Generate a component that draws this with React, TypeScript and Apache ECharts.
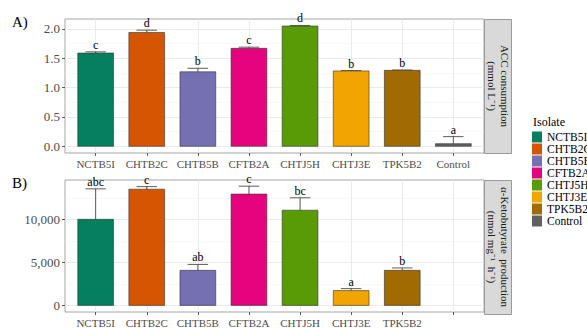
import React, { useEffect, useRef } from "react";
import * as echarts from "echarts";

// Isolates and their fill colours
const isolates = ["NCTB5I", "CHTB2C", "CHTB5B", "CFTB2A", "CHTJ5H", "CHTJ3E", "TPK5B2", "Control"];
const fills = ["#04805F", "#D55502", "#7470B2", "#E5047E", "#589B06", "#F2A401", "#A16A02", "#616161"];

// Panel A: ACC consumption (mmol L-1), mean and upper error limit
const accMean = [1.59, 1.94, 1.27, 1.67, 2.05, 1.285, 1.295, 0.045];
const accUpper = [1.61, 1.98, 1.33, 1.69, 2.06, 1.29, 1.3, 0.165];
const accLetters = ["c", "d", "b", "c", "d", "b", "b", "a"];

// Panel B: alpha-ketobutyrate production (nmol mg-1 h-1); no value for Control
const ketoMean = [10020, 13530, 4080, 12960, 11080, 1720, 4080, null];
const ketoUpper = [13570, 13830, 4770, 13880, 12530, 1950, 4360, null];
const ketoLetters = ["abc", "c", "ab", "c", "bc", "a", "b", null];

// Axis ticks
const accTicks = [0, 0.5, 1, 1.5, 2];
const accMinor = [0.25, 0.75, 1.25, 1.75];
const ketoTicks = [0, 5000, 10000];
const ketoMinor = [2500, 7500, 12500];
const catPositions = [0, 1, 2, 3, 4, 5, 6, 7];

const FONT = "'Liberation Serif', 'Times New Roman', serif";
const GRID_LEFT = 65;
const GRID_WIDTH = 419;

function barSeries(
  name: string,
  color: string,
  xi: number,
  mean: number | null,
  upper: number | null,
  letter: string | null,
  axisIdx: number
) {
  return {
    type: "custom",
    name,
    xAxisIndex: axisIdx,
    yAxisIndex: axisIdx,
    itemStyle: { color },
    data: mean == null ? [] : [[xi, mean, upper]],
    encode: { x: 0, y: [1, 2] },
    renderItem: (_params: any, api: any) => {
      const x = api.value(0);
      const m = api.value(1);
      const u = api.value(2);
      const base = api.coord([x, 0]);
      const top = api.coord([x, m]);
      const up = api.coord([x, u]);
      const bw = api.size([0.7, 0])[0];
      const cw = api.size([0.4, 0])[0];
      const line = { stroke: "#333333", lineWidth: 0.8 };
      return {
        type: "group",
        children: [
          { type: "line", shape: { x1: up[0], y1: top[1], x2: up[0], y2: up[1] }, style: line },
          { type: "line", shape: { x1: up[0] - cw / 2, y1: up[1], x2: up[0] + cw / 2, y2: up[1] }, style: line },
          {
            type: "rect",
            shape: { x: base[0] - bw / 2, y: top[1], width: bw, height: base[1] - top[1] },
            style: { fill: color, stroke: "#333333", lineWidth: 0.6 },
          },
          {
            type: "text",
            x: up[0],
            y: up[1] - 1,
            style: {
              text: letter,
              align: "center",
              verticalAlign: "bottom",
              fontFamily: FONT,
              fontSize: 12,
              fill: "#000000",
            },
          },
        ],
      };
    },
  };
}

function xAxis(gridIndex: number, labelled: number[]) {
  return {
    type: "value",
    gridIndex,
    min: -0.6,
    max: 7.6,
    axisLine: { show: false, onZero: false },
    axisTick: { show: true, customValues: catPositions, length: 3, lineStyle: { color: "#333333", width: 0.8 } },
    axisLabel: {
      customValues: labelled,
      formatter: (v: number) => isolates[Math.round(v)],
      fontFamily: FONT,
      fontSize: 11,
      color: "#4D4D4D",
      margin: 5,
    },
    splitLine: { show: true, lineStyle: { color: "#EBEBEB", width: 1 } },
  };
}

function yAxis(gridIndex: number, min: number, max: number, ticks: number[], fmt: (v: number) => string) {
  return {
    type: "value",
    gridIndex,
    position: "left",
    min,
    max,
    axisLine: { show: false, onZero: false },
    axisTick: { show: true, customValues: ticks, length: 3, lineStyle: { color: "#333333", width: 0.8 } },
    axisLabel: { customValues: ticks, formatter: fmt, fontFamily: FONT, fontSize: 13, color: "#4D4D4D", margin: 5 },
    splitLine: { show: true, lineStyle: { color: "#EBEBEB", width: 1 } },
  };
}

function minorAxis(gridIndex: number, min: number, max: number, ticks: number[]) {
  return {
    type: "value",
    gridIndex,
    position: "left",
    min,
    max,
    axisLine: { show: false, onZero: false },
    axisTick: { show: false, customValues: ticks },
    axisLabel: { show: false },
    splitLine: { show: true, lineStyle: { color: "#F4F4F4", width: 0.6 } },
  };
}

function strip(top: number, height: number, text: string) {
  return [
    {
      type: "rect",
      shape: { x: 484.5, y: top + 0.5, width: 27, height },
      style: { fill: "#D9D9D9", stroke: "#9A9A9A", lineWidth: 1 },
      z: 10,
    },
    {
      type: "text",
      x: 498.5,
      y: top + height / 2,
      rotation: -Math.PI / 2,
      style: {
        text,
        align: "center",
        verticalAlign: "middle",
        fontFamily: FONT,
        fontSize: 11,
        lineHeight: 13,
        fill: "#1A1A1A",
      },
      z: 11,
    },
  ];
}

export default function App() {
  const ref = useRef<HTMLDivElement>(null);

  useEffect(() => {
    if (!ref.current) return;
    const chart = echarts.init(ref.current, undefined, { renderer: "svg" });

    const series: any[] = [];
    isolates.forEach((name, i) => {
      series.push(barSeries(name, fills[i], i, accMean[i], accUpper[i], accLetters[i], 0));
    });
    isolates.forEach((name, i) => {
      series.push(barSeries(name, fills[i], i, ketoMean[i], ketoUpper[i], ketoLetters[i], 1));
    });

    const gridStyle = { show: true, backgroundColor: "#FFFFFF", borderColor: "#A6A6A6", borderWidth: 1 };

    chart.setOption({
      animation: false,
      textStyle: { fontFamily: FONT },
      grid: [
        { left: GRID_LEFT, top: 19, width: GRID_WIDTH, height: 134, ...gridStyle },
        { left: GRID_LEFT, top: 180, width: GRID_WIDTH, height: 134, ...gridStyle },
      ],
      xAxis: [xAxis(0, catPositions), xAxis(1, [0, 1, 2, 3, 4, 5, 6])],
      yAxis: [
        yAxis(0, -0.114, 2.17, accTicks, (v) => v.toFixed(1)),
        yAxis(1, -770, 14600, ketoTicks, (v) => v.toLocaleString("en-US")),
        minorAxis(0, -0.114, 2.17, accMinor),
        minorAxis(1, -770, 14600, ketoMinor),
      ],
      legend: {
        orient: "vertical",
        left: 532,
        top: 131,
        padding: 0,
        itemWidth: 10,
        itemHeight: 11,
        itemGap: 0,
        icon: "rect",
        data: isolates,
        selectedMode: false,
        itemStyle: { borderWidth: 0 },
        textStyle: { fontFamily: FONT, fontSize: 11.5, color: "#000000", lineHeight: 12 },
      },
      graphic: [
        { type: "text", x: 12, y: 22, style: { text: "A)", fontFamily: FONT, fontSize: 15, fill: "#000", verticalAlign: "middle" } },
        { type: "text", x: 12, y: 183, style: { text: "B)", fontFamily: FONT, fontSize: 15, fill: "#000", verticalAlign: "middle" } },
        { type: "text", x: 533, y: 122, style: { text: "Isolate", fontFamily: FONT, fontSize: 12, fill: "#000", verticalAlign: "middle" } },
        ...strip(19, 134, "ACC consumption\n(mmol L\u207B\u00B9)"),
        ...strip(180, 134, "\u03B1-Ketobutyrate  production\n(nmol mg\u207B\u00B9  h\u207B\u00B9)"),
      ],
      series,
    });

    return () => chart.dispose();
  }, []);

  return (
    <div
      ref={ref}
      style={{ position: "fixed", left: 0, top: 0, width: 587, height: 328, background: "#FFFFFF" }}
    />
  );
}
